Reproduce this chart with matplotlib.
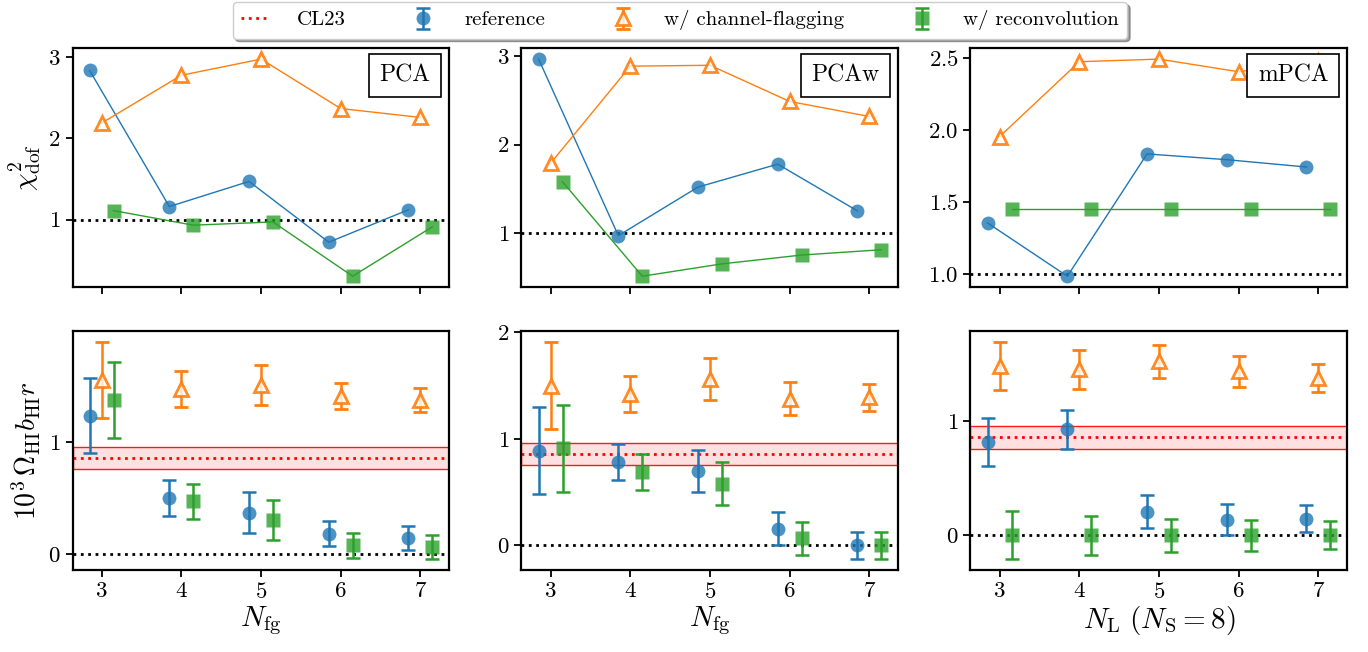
import matplotlib
matplotlib.use("Agg")
import matplotlib.pyplot as plt
from matplotlib.colors import to_rgba
import numpy as np

plt.rcParams['font.family'] = 'serif'
plt.rcParams['font.serif'] = ['cmr10']
plt.rcParams['mathtext.fontset'] = 'cm'
plt.rcParams['axes.formatter.use_mathtext'] = True
plt.rcParams['axes.unicode_minus'] = False

# ---------------- data ----------------
n_values = [3, 4, 5, 6, 7]
methods = ["PCA", "PCAw", "mPCA"]
xlabels = [r"$N_{\rm fg}$", r"$N_{\rm fg}$", r"$N_{\rm L}\ (N_{\rm S}=8)$"]

# chi^2_dof (top row)
chi2_reference = [
    [2.84, 1.16, 1.47, 0.72, 1.12],
    [2.97, 0.97, 1.52, 1.78, 1.25],
    [1.356, 0.986, 1.836, 1.796, 1.745],
]
chi2_flagging = [
    [2.19, 2.78, 2.98, 2.37, 2.26],
    [1.79, 2.89, 2.90, 2.49, 2.32],
    [1.956, 2.477, 2.495, 2.407, 2.484],
]
chi2_reconv = [
    [1.11, 0.93, 0.97, 0.30, 0.91],
    [1.58, 0.51, 0.65, 0.75, 0.81],
    [1.45, 1.45, 1.45, 1.45, 1.45],
]

# 10^3 Omega_HI b_HI r (bottom row)
amp_reference = [
    [1.24, 0.50, 0.37, 0.18, 0.14],
    [0.89, 0.78, 0.70, 0.155, 0.0],
    [0.82, 0.93, 0.205, 0.137, 0.146],
]
amp_flagging = [
    [1.56, 1.48, 1.51, 1.415, 1.38],
    [1.50, 1.42, 1.56, 1.375, 1.39],
    [1.49, 1.46, 1.53, 1.44, 1.38],
]
amp_reconv = [
    [1.38, 0.47, 0.30, 0.077, 0.06],
    [0.91, 0.69, 0.58, 0.066, 0.0],
    [0.0, 0.0, 0.0, 0.0, 0.0],
]
amp_err = [
    [0.34, 0.16, 0.18, 0.113, 0.106],
    [0.41, 0.17, 0.20, 0.155, 0.127],
    [0.21, 0.172, 0.146, 0.137, 0.122],
]

cl23_value = 0.86
cl23_low = 0.757
cl23_high = 0.957

top_yticks = [[1, 2, 3], [1, 2, 3], [1.0, 1.5, 2.0, 2.5]]
bottom_yticks = [[0, 1], [0, 1, 2], [0, 1]]

offsets = [-0.15, 0.0, 0.15]
c_ref, c_flag, c_rec = "tab:blue", "tab:orange", "tab:green"

# ---------------- figure ----------------
fig, axes = plt.subplots(2, 3, figsize=(13.68, 6.52), dpi=100, sharex=True)
fig.subplots_adjust(left=0.053, right=0.985, top=0.926, bottom=0.126,
                    wspace=0.191, hspace=0.184)

ms = 10
x = np.array(n_values, dtype=float)

def style_ax(ax):
    for s in ax.spines.values():
        s.set_linewidth(1.6)
    ax.tick_params(direction='out', length=5, width=1.3, labelsize=16.5)

handles = {}
for j in range(3):
    ax = axes[0, j]
    style_ax(ax)
    ax.axhline(1.0, color='k', ls=':', lw=2, zorder=1)
    ax.plot(x + offsets[0], chi2_reference[j], '-', color=c_ref, lw=1, zorder=2)
    ax.plot(x + offsets[0], chi2_reference[j], 'o', ms=ms, color=c_ref,
            mfc=to_rgba(c_ref, 0.8), mec=to_rgba(c_ref, 0.0), zorder=2)
    ax.plot(x + offsets[1], chi2_flagging[j], '-', color=c_flag, lw=1, zorder=2)
    ax.plot(x + offsets[1], chi2_flagging[j], '^', ms=ms, mew=2,
            mfc=(1, 1, 1, 0.8), mec=to_rgba(c_flag, 0.9), zorder=2)
    ax.plot(x + offsets[2], chi2_reconv[j], '-', color=c_rec, lw=1, zorder=2)
    ax.plot(x + offsets[2], chi2_reconv[j], 's', ms=ms, color=c_rec,
            mfc=to_rgba(c_rec, 0.8), mec=to_rgba(c_rec, 0.0), zorder=2)
    ax.set_yticks(top_yticks[j])
    ax.text(0.95, 0.885, methods[j], transform=ax.transAxes, ha='right', va='center',
            fontsize=17, zorder=5,
            bbox=dict(boxstyle='square,pad=0.45', fc='white', ec='k', lw=1.2))
    ax.tick_params(labelbottom=False)

axes[0, 0].set_ylabel(r"$\chi^2_{\rm dof}$", fontsize=20)

for j in range(3):
    ax = axes[1, j]
    style_ax(ax)
    ax.axhline(0.0, color='k', ls=':', lw=2, zorder=1)
    ax.axhspan(cl23_low, cl23_high, facecolor=to_rgba('red', 0.12),
               edgecolor=to_rgba('red', 0.9), lw=1, zorder=0)
    hcl = ax.axhline(cl23_value, color='red', ls=':', lw=2, zorder=1, label='CL23')
    e1 = ax.errorbar(x + offsets[0], amp_reference[j], yerr=amp_err[j], fmt='o',
                     ms=ms, color=c_ref, mfc=to_rgba(c_ref, 0.8),
                     mec=to_rgba(c_ref, 0.0), ecolor=c_ref, elinewidth=1.8,
                     capsize=5, capthick=1.8, label='reference')
    e2 = ax.errorbar(x + offsets[1], amp_flagging[j], yerr=amp_err[j], fmt='^',
                     ms=ms, mew=2, mfc=(1, 1, 1, 0.8), mec=to_rgba(c_flag, 0.9),
                     ecolor=c_flag, elinewidth=1.8, capsize=5, capthick=1.8,
                     label='w/ channel-flagging')
    e3 = ax.errorbar(x + offsets[2], amp_reconv[j], yerr=amp_err[j], fmt='s',
                     ms=ms, color=c_rec, mfc=to_rgba(c_rec, 0.8),
                     mec=to_rgba(c_rec, 0.0), ecolor=c_rec, elinewidth=1.8,
                     capsize=5, capthick=1.8, label='w/ reconvolution')
    ax.set_yticks(bottom_yticks[j])
    ax.set_xticks(n_values)
    ax.set_xlabel(xlabels[j], fontsize=21, labelpad=2)
    if j == 0:
        handles = [hcl, e1, e2, e3]

axes[1, 0].set_ylabel(r"$10^3\,\Omega_{\rm HI}b_{\rm HI}r$", fontsize=20)

fig.legend(handles, [h.get_label() for h in handles], loc='upper center',
           bbox_to_anchor=(0.497, 1.0), ncol=4, fontsize=15, shadow=True,
           fancybox=True, borderaxespad=0.1, columnspacing=3.0,
           handletextpad=1.3, handlelength=1.4)

fig.savefig("out.png", dpi=100)
